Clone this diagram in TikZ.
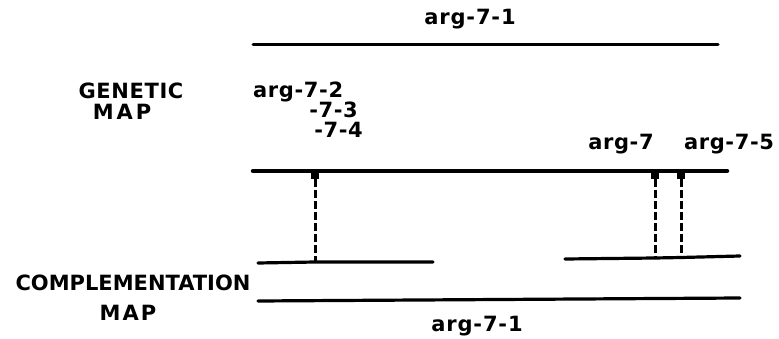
\documentclass[tikz,border=0pt]{standalone}
\usepackage{fontspec}
\setmainfont{DejaVu Sans}
\begin{document}
\begin{tikzpicture}[x=1pt,y=-1pt,
  lbl/.style={inner sep=0pt,font=\fontsize{21}{23}\selectfont\bfseries},
  mapline/.style={line width=3.2pt,line cap=round},
  mainline/.style={line width=4.5pt,line cap=round},
  marker/.style={fill=black,inner sep=0pt,minimum width=8pt,minimum height=8pt,anchor=north},
  link/.style={line width=3pt,dash pattern=on 8pt off 3pt}]
\useasboundingbox (0,0) rectangle (779,339);

% top line: full extent of arg-7-1
\node[lbl,anchor=base] (t71) at (470,25) {\addfontfeature{LetterSpace=4}arg-7-1};
\draw[line width=3pt,line cap=round] (253,45) -- (718,45);

% genetic map
\node[lbl,anchor=base] (gen) at (131,99) {\addfontfeature{LetterSpace=3}GENETIC};
\node[lbl,anchor=base] (gmap) at (122,120) {\addfontfeature{LetterSpace=14}MAP};
\node[lbl,anchor=base west] (a72) at (253,98) {\addfontfeature{LetterSpace=3}arg-7-2};
\node[lbl,anchor=base east] (a73) at (358,118) {\addfontfeature{LetterSpace=3}-7-3};
\node[lbl,anchor=base east] (a74) at (363,138) {\addfontfeature{LetterSpace=3}-7-4};
\node[lbl,anchor=base] (a7) at (621,150) {\addfontfeature{LetterSpace=3}arg-7};
\node[lbl,anchor=base] (a75) at (729,150) {\addfontfeature{LetterSpace=3}arg-7-5};
\draw[mainline] (253,171) coordinate (gl) -- (727,171) coordinate (gr);

% mutant sites
\node[marker] (m1) at (315,171) {};
\node[marker] (m2) at (655,171) {};
\node[marker] (m3) at (681,171) {};

% complementation map
\node[lbl,anchor=base] (comp) at (133,290) {COMPLEMENTATION};
\node[lbl,anchor=base] (cmap) at (128,320) {\addfontfeature{LetterSpace=10}MAP};
\draw[mapline] (258,263) -- (315,262) coordinate (c1) -- (433,262);
\draw[mapline] (565,259) -- (655,258) coordinate (c2) -- (681,257.5) coordinate (c3) -- (740,256);
\draw[mapline] (258,301) -- (740,298);
\node[lbl,anchor=base] (b71) at (477,331) {\addfontfeature{LetterSpace=4}arg-7-1};

% links from sites to complementation segments
\draw[link] (m1.south) -- (c1);
\draw[link] (m2.south) -- (c2);
\draw[link] (m3.south) -- (c3);
\end{tikzpicture}
\end{document}
